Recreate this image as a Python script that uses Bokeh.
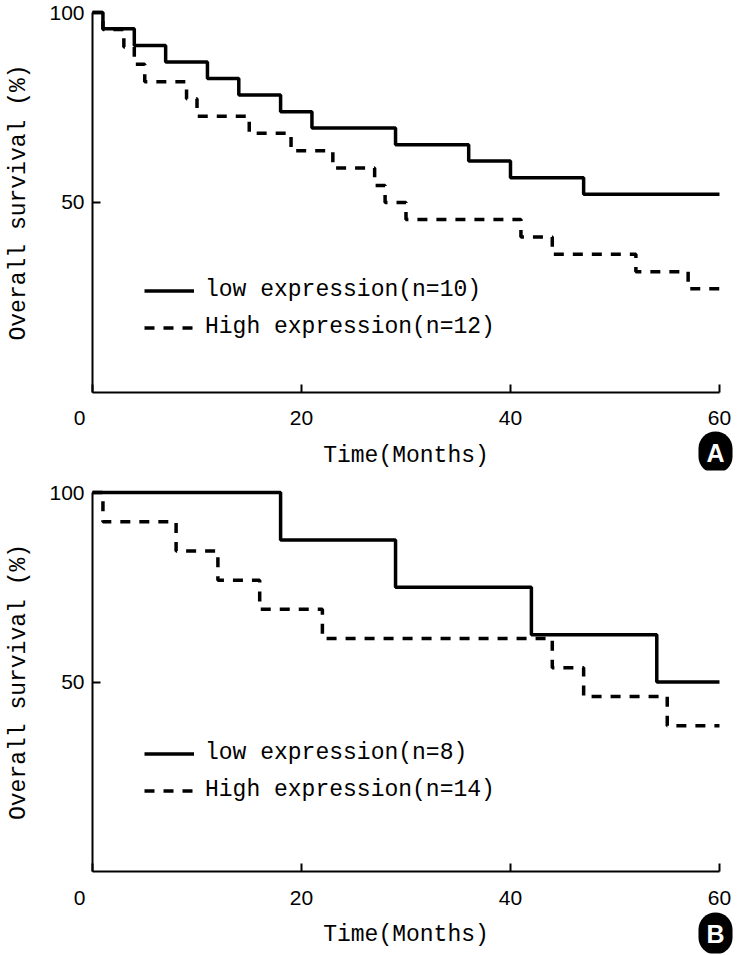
from bokeh.plotting import figure
from bokeh.models import Range1d, FixedTicker, Legend, LegendItem, Label
from bokeh.layouts import column
from bokeh.embed import file_html
from bokeh.resources import INLINE

# ---- data ----
a_low_t = [0, 1, 4, 7, 11, 14, 18, 21, 29, 36, 40, 47, 60]
a_low_s = [100, 95.7, 91.3, 87.0, 82.6, 78.3, 73.9, 69.6, 65.2, 60.9, 56.5, 52.2, 52.2]
a_high_t = [0, 1, 3, 4, 5, 9, 10, 15, 19, 23, 27, 28, 30, 41, 44, 52, 57, 60]
a_high_s = [100, 95.5, 90.9, 86.4, 81.8, 77.3, 72.7, 68.2, 63.6, 59.1, 54.5, 50.0,
            45.5, 40.9, 36.4, 31.8, 27.3, 27.3]
b_low_t = [0, 18, 29, 42, 54, 60]
b_low_s = [100, 87.5, 75.0, 62.5, 50.0, 50.0]
b_high_t = [0, 1, 8, 12, 16, 22, 44, 47, 55, 60]
b_high_s = [100, 92.3, 84.6, 76.9, 69.2, 61.5, 53.8, 46.2, 38.5, 38.5]

x_ticks = [0, 20, 40, 60]
y_ticks = [50, 100]
x_title = "Time(Months)"
y_title = "Overall survival (%)"
a_labels = ["low expression(n=10)", "High expression(n=12)"]
b_labels = ["low expression(n=8)", "High expression(n=14)"]

MONO = "Liberation Mono"
SANS = "Liberation Sans"


def panel(low_t, low_s, high_t, high_s, labels, letter,
          frame_h, y_lo, y_hi, bottom, leg_y, badge_y):
    p = figure(frame_width=738, frame_height=frame_h,
               output_backend="svg", toolbar_location=None,
               x_range=Range1d(-8.804, 61.82), y_range=Range1d(y_lo, y_hi),
               min_border_left=0, min_border_right=0,
               min_border_top=0, min_border_bottom=bottom)
    p.outline_line_color = None
    p.xgrid.visible = False
    p.ygrid.visible = False
    p.background_fill_color = "white"
    p.border_fill_color = "white"

    r1 = p.step(low_t, low_s, mode="after", line_color="black", line_width=3.5)
    r2 = p.step(high_t, high_s, mode="after", line_color="black", line_width=3.5,
                line_dash="10 9")

    for ax in (p.xaxis[0], p.yaxis[0]):
        ax.axis_line_color = "black"
        ax.axis_line_width = 2
        ax.major_tick_line_color = "black"
        ax.major_tick_line_width = 2
        ax.major_tick_in = 8
        ax.major_tick_out = 0
        ax.minor_tick_line_color = None
        ax.major_label_text_font = SANS
        ax.major_label_text_font_size = "21px"
        ax.major_label_text_color = "black"
        ax.axis_label_text_font = MONO
        ax.axis_label_text_font_size = "23px"
        ax.axis_label_text_font_style = "normal"
        ax.axis_label_text_color = "black"

    p.xaxis.ticker = FixedTicker(ticks=x_ticks)
    p.yaxis.ticker = FixedTicker(ticks=y_ticks)
    p.xaxis.fixed_location = 0
    p.yaxis.fixed_location = 0
    p.xaxis.bounds = (0, 60)
    p.yaxis.bounds = (0, 100)
    p.xaxis.major_label_overrides = {0: ""}
    p.xaxis.axis_label = x_title
    p.yaxis.axis_label = y_title
    p.xaxis.major_label_standoff = 19
    p.xaxis.axis_label_standoff = 14
    p.yaxis.major_label_standoff = 8
    p.yaxis.axis_label_standoff = 14

    # the "0" of the time axis sits a little left of the origin, as in the reference
    zero = Label(x=x_ticks[0], y=0, text=str(x_ticks[0]), x_offset=-13, y_offset=-19,
                 text_align="center", text_baseline="top",
                 text_font=SANS, text_font_size="21px", text_color="black")
    p.add_layout(zero)

    legend = Legend(items=[LegendItem(label=labels[0], renderers=[r1]),
                           LegendItem(label=labels[1], renderers=[r2])],
                    location=(144, leg_y), orientation="vertical",
                    glyph_width=50, glyph_height=37, label_height=37,
                    label_standoff=11, spacing=0, padding=0, margin=0,
                    border_line_color=None, background_fill_alpha=0,
                    label_text_font=MONO, label_text_font_size="23px",
                    label_text_color="black")
    p.add_layout(legend, "center")

    badge = Label(x=715, y=badge_y, x_units="screen", y_units="screen", text=letter,
                  text_align="center", text_baseline="middle",
                  text_font=SANS, text_font_size="25px", text_font_style="bold",
                  text_color="white", background_fill_color="black",
                  border_radius=17, padding=(8, 7))
    p.add_layout(badge)
    return p


pa = panel(a_low_t, a_low_s, a_high_t, a_high_s, a_labels, "A",
           470, -20.53, 103.16, 2, 124.5, 18)
pb = panel(b_low_t, b_low_s, b_high_t, b_high_s, b_labels, "B",
           481, -21.6, 105.3, 2, 144.5, 20)

layout = column(pa, pb, spacing=0)
open("out.html", "w").write(file_html(layout, INLINE))
